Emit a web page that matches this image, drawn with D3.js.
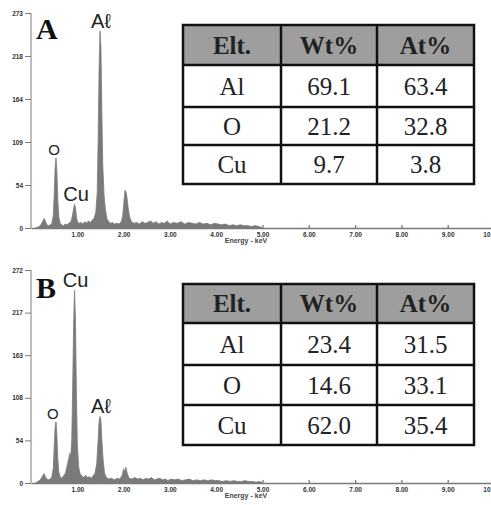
<!DOCTYPE html>
<html><head><meta charset="utf-8">
<script src="https://cdn.jsdelivr.net/npm/d3@7"></script>
<style>body{margin:0;background:#fff}svg{display:block}</style>
</head><body>
<svg id="c" width="491" height="505"></svg>
<script>
// ---- data ----
const energyA = [0.10,0.15,0.20,0.25,0.28,0.31,0.34,0.38,0.42,0.45,0.48,0.50,0.52,0.54,0.56,0.58,0.60,0.63,0.66,0.70,0.74,0.78,0.82,0.86,0.89,0.92,0.94,0.96,0.98,1.00,1.04,1.08,1.12,1.16,1.20,1.24,1.28,1.32,1.36,1.40,1.43,1.45,1.47,1.49,1.51,1.53,1.55,1.58,1.61,1.64,1.68,1.72,1.76,1.80,1.85,1.90,1.95,1.98,2.01,2.03,2.05,2.07,2.10,2.13,2.17,2.22,2.28,2.34,2.40,2.46,2.52,2.58,2.64,2.70,2.76,2.82,2.88,2.94,3.00,3.08,3.16,3.24,3.32,3.40,3.48,3.56,3.64,3.72,3.80,3.88,3.96,4.04,4.12,4.20,4.28,4.36,4.44,4.52,4.60,4.68,4.76,4.84,4.92,5.00];
const countsA = [0,1,3,8,12,9,4,3,4,6,15,40,75,89,70,35,14,6,4,3,5,4,6,8,14,24,30,26,15,8,6,7,5,8,6,9,7,10,12,20,45,110,200,250,230,150,80,40,22,12,8,6,7,5,6,5,8,15,35,48,46,40,25,14,8,6,7,5,8,6,7,9,6,8,5,7,6,9,5,7,6,8,5,7,6,5,7,5,6,4,6,5,4,5,3,4,3,4,3,3,2,3,2,0];
const energyB = [0.10,0.15,0.20,0.25,0.28,0.31,0.34,0.38,0.42,0.45,0.48,0.50,0.52,0.54,0.56,0.58,0.60,0.63,0.66,0.70,0.74,0.78,0.81,0.84,0.86,0.88,0.90,0.92,0.94,0.96,0.98,1.00,1.03,1.06,1.10,1.14,1.18,1.22,1.26,1.30,1.34,1.38,1.42,1.45,1.47,1.49,1.51,1.53,1.56,1.59,1.63,1.68,1.74,1.80,1.86,1.92,1.97,2.00,2.02,2.05,2.08,2.12,2.18,2.24,2.30,2.36,2.42,2.48,2.54,2.60,2.66,2.72,2.78,2.84,2.90,2.96,3.02,3.10,3.18,3.26,3.34,3.42,3.50,3.58,3.66,3.74,3.82,3.90,3.98,4.06,4.14,4.22,4.30,4.38,4.46,4.54,4.62,4.70,4.78,4.86,4.94,5.00];
const countsB = [0,2,4,9,12,8,5,4,5,8,18,45,70,78,60,30,14,8,6,9,12,22,30,38,35,55,120,200,246,210,120,50,20,12,9,7,10,7,8,6,9,12,25,55,78,85,80,55,28,12,7,5,6,4,6,5,10,18,14,20,12,6,5,7,5,6,4,6,5,7,4,5,6,4,5,3,5,4,5,3,4,5,3,4,3,4,3,4,3,3,2,3,2,3,2,2,3,2,2,1,2,0];
const xTickValues = [1,2,3,4,5,6,7,8,9,10];
const xTickLabels = ["1.00","2.00","3.00","4.00","5.00","6.00","7.00","8.00","9.00","10"];
const yMaxA = 273, yMaxB = 272;
const yTickLabelsA = ["0","54","109","164","218","273"];
const yTickLabelsB = ["0","54","108","163","217","272"];
const tableHeader = ["Elt.","Wt%","At%"];
const elements = ["Al","O","Cu"];
const wtA = ["69.1","21.2","9.7"], atA = ["63.4","32.8","3.8"];
const wtB = ["23.4","14.6","62.0"], atB = ["31.5","33.1","35.4"];
const peaksA = [{t:"Aℓ",e:1.49,c:250,size:20},{t:"O",e:0.50,c:89,size:15},{t:"Cu",e:0.95,c:30,size:20}];
const peaksB = [{t:"Cu",e:0.94,c:246,size:20},{t:"O",e:0.47,c:78,size:15},{t:"Aℓ",e:1.49,c:85,size:20}];

const svg = d3.select("#c");
const axisCol = "#7a7a7a", specCol = "#7a7a7a";

function panel(cfg){
  const g = svg.append("g");
  const x = d3.scaleLinear().domain([0,10]).range([31,494]);
  const y = d3.scaleLinear().domain([0,cfg.yMax]).range([cfg.y0, cfg.yTop]);
  const pts = cfg.energy.map((e,i)=>[e,cfg.counts[i]]);
  const area = d3.area().x(d=>x(d[0])).y0(y(0)).y1(d=>y(d[1]));
  g.append("path").datum(pts).attr("d",area).attr("fill",specCol).attr("stroke",specCol).attr("stroke-width",0.8);
  // y axis
  const yTicks = d3.range(6).map(i=>cfg.yMax*i/5);
  const ya = g.append("g").attr("transform",`translate(${x(0)},0)`)
    .call(d3.axisLeft(y).tickValues(yTicks).tickSize(6).tickPadding(2).tickFormat((d,i)=>cfg.yLabels[i]));
  ya.selectAll("path,line").attr("stroke",axisCol);
  ya.select(".domain").attr("d",`M0,${cfg.yTop}V${cfg.y0}`);
  ya.selectAll("text").attr("font-family","Liberation Sans, Arial").attr("font-size",6.5).attr("font-weight","bold").attr("fill","#333");
  // x axis
  const xa = g.append("g").attr("transform",`translate(0,${y(0)})`)
    .call(d3.axisBottom(x).tickValues(xTickValues).tickSizeInner(-3).tickSizeOuter(0).tickPadding(4).tickFormat((d,i)=>xTickLabels[i]));
  xa.selectAll("path,line").attr("stroke",axisCol).attr("stroke-width",1.3);
  xa.selectAll("text").attr("font-family","Liberation Sans, Arial").attr("font-size",6.5).attr("font-weight","bold").attr("fill","#333");
  xa.selectAll(".tick").filter(d=>d===10).select("text").attr("text-anchor","end").attr("x",-3+ (490 - x(10)) + 3);
  g.append("text").attr("x",246).attr("y",y(0)+15).attr("text-anchor","middle")
    .attr("font-family","Liberation Sans, Arial").attr("font-size",7).attr("font-weight","bold").attr("fill","#444").text("Energy - keV");
  // panel letter
  g.append("text").attr("x",36).attr("y",cfg.letterY).attr("font-family","Liberation Serif, Times New Roman").attr("font-weight","bold").attr("font-size",30).attr("fill","#111").text(cfg.letter);
  // peak labels
  g.selectAll("text.pk").data(cfg.peaks).join("text").attr("class","pk")
    .attr("x",d=>x(d.e)+ (d.t==="O"?0:1)).attr("y",d=>y(d.c)-3).attr("text-anchor","middle")
    .attr("font-family","Liberation Sans, Arial").attr("font-size",d=>d.size).attr("fill","#222").text(d=>d.t);
  // table
  const tx = d3.scaleOrdinal().domain([0,1,2]).range([183,281,377]);
  const colW = [98,96,97];
  const rowsY = cfg.rowsY;
  const tg = g.append("g");
  tg.append("rect").attr("x",183).attr("y",rowsY[0]).attr("width",291).attr("height",rowsY[1]-rowsY[0]).attr("fill","#9e9e9e");
  tg.append("rect").attr("x",183).attr("y",rowsY[0]).attr("width",291).attr("height",rowsY[4]-rowsY[0]).attr("fill","none").attr("stroke","#111").attr("stroke-width",2.5);
  [1,2,3].forEach(i=>tg.append("line").attr("x1",183).attr("x2",474).attr("y1",rowsY[i]).attr("y2",rowsY[i]).attr("stroke","#111").attr("stroke-width",2.5));
  [1,2].forEach(i=>tg.append("line").attr("x1",tx(i)).attr("x2",tx(i)).attr("y1",rowsY[0]).attr("y2",rowsY[4]).attr("stroke","#111").attr("stroke-width",2.5));
  const cols = [elements, cfg.wt, cfg.at];
  const cellText = (ci,ri,txt,bold)=>{
    tg.append("text").attr("x",tx(ci)+colW[ci]/2).attr("y",(rowsY[ri]+rowsY[ri+1])/2+8.5).attr("text-anchor","middle")
      .attr("font-family","Liberation Serif, Times New Roman").attr("font-size",25).attr("font-weight",bold?"bold":"normal").attr("fill","#222").text(txt);
  };
  tableHeader.forEach((h,ci)=>cellText(ci,0,h,true));
  cols.forEach((col,ci)=>col.forEach((v,ri)=>cellText(ci,ri+1,v,false)));
}

panel({energy:energyA,counts:countsA,yMax:yMaxA,yLabels:yTickLabelsA,y0:228,yTop:13,letter:"A",letterY:39,peaks:peaksA,wt:wtA,at:atA,rowsY:[25,65,107,145,184]});
panel({energy:energyB,counts:countsB,yMax:yMaxB,yLabels:yTickLabelsB,y0:483,yTop:270,letter:"B",letterY:298,peaks:peaksB,wt:wtB,at:atB,rowsY:[284,323,365,405,445]});
</script>
</body></html>
